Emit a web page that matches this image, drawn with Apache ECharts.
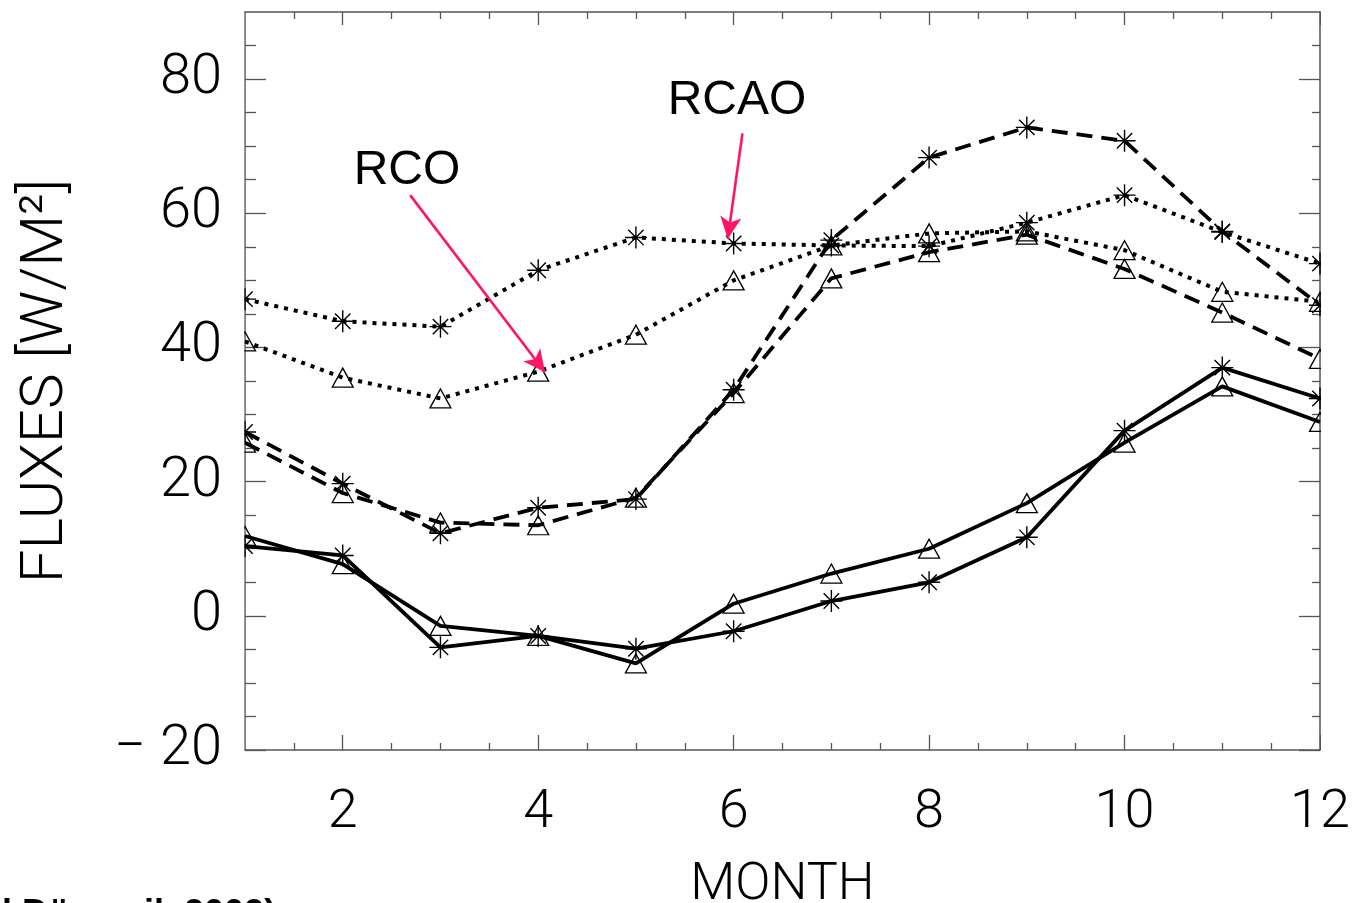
<!DOCTYPE html>
<html>
<head>
<meta charset="utf-8">
<script src="https://cdn.jsdelivr.net/npm/echarts@6/dist/echarts.min.js"></script>
<style>
html,body{margin:0;padding:0;background:#fff;}
#chart{width:1354px;height:903px;}
</style>
</head>
<body>
<div id="chart"></div>
<script>
// ---- data ----
var months = [1, 2, 3, 4, 5, 6, 7, 8, 9, 10, 11, 12];
var rcaoSolid  = [10.4, 9.0, -4.7, -3.0, -4.9, -2.3, 2.2, 5.0, 11.7, 27.6, 37.0, 32.4];
var rcoSolid   = [11.9, 7.7, -1.5, -3.0, -7.1, 1.8, 6.3, 10.0, 16.8, 25.8, 34.2, 28.9];
var rcaoDashed = [27.4, 19.7, 12.3, 16.1, 17.4, 33.7, 56.0, 68.3, 72.8, 70.8, 57.3, 46.3];
var rcoDashed  = [25.8, 18.3, 13.9, 13.5, 17.6, 33.2, 50.3, 54.2, 56.8, 51.7, 45.2, 38.3];
var rcaoDotted = [47.2, 43.9, 43.1, 51.5, 56.4, 55.5, 55.2, 55.1, 58.6, 62.7, 57.2, 52.5];
var rcoDotted  = [40.9, 35.5, 32.4, 36.4, 41.9, 50.0, 55.2, 57.0, 57.3, 54.5, 48.3, 46.8];

var xMajorTicks = [2, 4, 6, 8, 10, 12];
var xMinorTicks = [1.5, 2.5, 3, 3.5, 4.5, 5, 5.5, 6.5, 7, 7.5, 8.5, 9, 9.5, 10.5, 11, 11.5];
var yMajorTicks = [-20, 0, 20, 40, 60, 80];
var yMinorTicks = [-15, -10, -5, 5, 10, 15, 25, 30, 35, 45, 50, 55, 65, 70, 75, 85];

var rcoArrow  = [[2.69, 62.7], [4.07, 36.3]];
var rcaoArrow = [[6.09, 71.9], [5.94, 56.2]];

// ---- styles ----
var AX = '#555';
var FONT = 'Roboto';
var asterisk = 'path://M10 0 L10 20 M0 10 L20 10 M3 3 L17 17 M17 3 L3 17';
var PINK = '#ff1466';

function pairs(vals) { return months.map(function (m, i) { return [m, vals[i]]; }); }

function mkSeries(name, vals, kind, sym) {
  var lt = kind === 'solid' ? 'solid' : (kind === 'dashed' ? [16, 9] : [4, 6]);
  var isAst = sym === 'ast';
  return {
    name: name, type: 'line', data: pairs(vals),
    xAxisIndex: 0, yAxisIndex: 0,
    symbol: isAst ? asterisk : 'triangle',
    symbolSize: isAst ? 22 : [21, 19],
    showSymbol: true, clip: true,
    lineStyle: { color: '#000', width: kind === 'dotted' ? 4 : 3.8, type: lt, cap: 'butt' },
    itemStyle: isAst ? { color: '#000', borderColor: '#000', borderWidth: 1.4 }
                     : { color: 'rgba(0,0,0,0)', borderColor: '#000', borderWidth: 1.3 },
    z: 3
  };
}

function xAx(pos, ticks, len, labels, main) {
  return {
    type: 'value', position: pos, min: 1, max: 12,
    axisLine: { show: !!main, onZero: false, lineStyle: { color: AX, width: 1.5 } },
    axisTick: { show: true, inside: true, length: len, customValues: ticks, lineStyle: { color: AX, width: 1.3 } },
    axisLabel: labels ? { show: true, customValues: xMajorTicks, margin: 36, fontFamily: FONT, fontWeight: 300, fontSize: 54, color: '#000' } : { show: false },
    splitLine: { show: false },
    name: labels ? 'MONTH' : '',
    nameLocation: 'middle', nameGap: 110,
    nameTextStyle: { fontFamily: FONT, fontWeight: 300, fontSize: 52, color: '#000' }
  };
}
function yAx(pos, ticks, len, labels, main) {
  return {
    type: 'value', position: pos, min: -20, max: 90, interval: 20,
    axisLine: { show: !!main, onZero: false, lineStyle: { color: AX, width: 1.5 } },
    axisTick: { show: true, inside: true, length: len, customValues: ticks, lineStyle: { color: AX, width: 1.3 } },
    axisLabel: labels ? { show: true, customValues: yMajorTicks, margin: 23, fontFamily: FONT, fontWeight: 300, fontSize: 56, color: '#000',
      formatter: function (v) { return v < 0 ? '\u2212 ' + Math.abs(v) : String(v); } } : { show: false },
    splitLine: { show: false },
    name: labels ? 'FLUXES [W/M\u00B2]' : '',
    nameLocation: 'middle', nameGap: 168, nameRotate: 90,
    nameTextStyle: { fontFamily: FONT, fontWeight: 300, fontSize: 60, color: '#000' }
  };
}

var chart = echarts.init(document.getElementById('chart'), null, { renderer: 'canvas' });

var series = [
  mkSeries('RCAO solid', rcaoSolid, 'solid', 'ast'),
  mkSeries('RCO solid', rcoSolid, 'solid', 'tri'),
  mkSeries('RCAO dashed', rcaoDashed, 'dashed', 'ast'),
  mkSeries('RCO dashed', rcoDashed, 'dashed', 'tri'),
  mkSeries('RCAO dotted', rcaoDotted, 'dotted', 'ast'),
  mkSeries('RCO dotted', rcoDotted, 'dotted', 'tri')
];
series[0].markLine = {
  silent: true, animation: false,
  symbol: ['none', 'arrow'], symbolSize: [16, 22],
  label: { show: false },
  lineStyle: { color: PINK, width: 2.6, type: 'solid' },
  data: [
    [{ coord: rcoArrow[0] }, { coord: rcoArrow[1] }],
    [{ coord: rcaoArrow[0] }, { coord: rcaoArrow[1] }]
  ]
};

chart.setOption({
  animation: false,
  backgroundColor: '#fff',
  grid: { left: 245, right: 34, top: 12, bottom: 153, containLabel: false, outerBoundsMode: 'none' },
  xAxis: [
    xAx('bottom', xMajorTicks, 15, true, true),
    xAx('bottom', xMinorTicks, 7, false, false),
    xAx('top', xMajorTicks, 13, false, true),
    xAx('top', xMinorTicks, 7, false, false)
  ],
  yAxis: [
    yAx('left', yMajorTicks, 21, true, true),
    yAx('left', yMinorTicks, 11, false, false),
    yAx('right', yMajorTicks, 21, false, true),
    yAx('right', yMinorTicks, 8, false, false)
  ],
  series: series,
  graphic: [
    { type: 'rect', shape: { x: 226, y: 0, width: 18.2, height: 760 }, style: { fill: '#fff' }, z: 100, silent: true },
    { type: 'rect', shape: { x: 1321, y: 0, width: 33, height: 760 }, style: { fill: '#fff' }, z: 100, silent: true },
    { type: 'text', x: 407, y: 171, style: { text: 'RCO', fontFamily: 'Liberation Sans, Arial', fontSize: 48, fill: '#000', textAlign: 'center', textVerticalAlign: 'middle' }, z: 101 },
    { type: 'text', x: 737, y: 101, style: { text: 'RCAO', fontFamily: 'Liberation Sans, Arial', fontSize: 48, fill: '#000', textAlign: 'center', textVerticalAlign: 'middle' }, z: 101 },
    { type: 'text', x: -178, y: 897, style: { text: '(Jacob and D\u00FCmenil, 2002)', fontFamily: 'Liberation Sans, Arial', fontWeight: 'bold', fontSize: 36, fill: '#000', textAlign: 'left', textVerticalAlign: 'top' }, z: 101 }
  ]
});
</script>
</body>
</html>
